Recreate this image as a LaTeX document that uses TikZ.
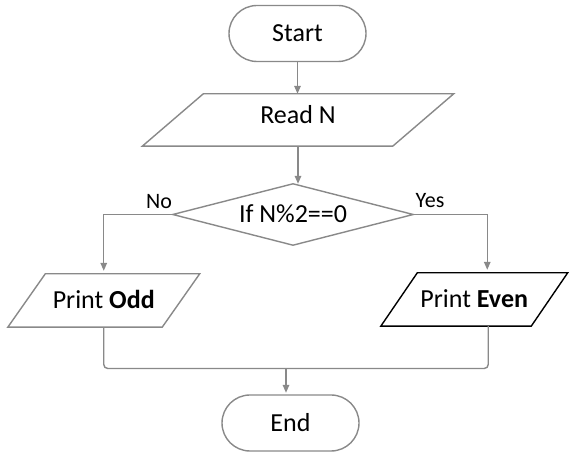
\documentclass[tikz,border=0pt]{standalone}
\usepackage{fontspec}
\setmainfont{Carlito}
\usetikzlibrary{arrows.meta,calc}

\definecolor{linegray}{RGB}{137,137,137}

\tikzset{
  x=1pt, y=1pt,
  flow/.style={draw=linegray, line width=1.4pt},
  arrowline/.style={flow, -{Triangle[length=8pt,width=6.5pt]}},
  txt/.style={font=\fontsize{26}{31}\selectfont, inner sep=0pt,
              text height=16.5pt, text depth=0pt},
  lbl/.style={font=\fontsize{22}{26}\selectfont, inner sep=0pt},
  terminal/.style={txt, draw=linegray, line width=1.4pt, rounded corners=28pt,
                   minimum width=137pt, minimum height=56pt},
  % invisible box that carries the text; its outline is drawn separately
  bodybox/.style={txt, draw=none}
}

% parallelogram outline around a named box; #3 = horizontal slant
\newcommand{\drawslanted}[3][linegray]{%
  \draw[draw=#1, line width=1.4pt, line join=miter]
    ([xshift=#3/2]#2.north west) -- ([xshift=#3/2]#2.north east)
    -- ([xshift=-#3/2]#2.south east) -- ([xshift=-#3/2]#2.south west) -- cycle;}

\begin{document}
\begin{tikzpicture}
  \fill[white] (0,0) rectangle (570,452);
  \useasboundingbox (0,0) rectangle (570,452);

  % nodes
  \node[terminal] (start) at (297.5,418.5) {Start};
  \node[bodybox, minimum width=250pt, minimum height=52pt, text depth=10pt]
       (read) at (298,332) {Read N};
  \node[bodybox, minimum width=240pt, minimum height=61pt]
       (dec) at (293,237.5) {If N\%2==0};
  \node[bodybox, minimum width=154pt, minimum height=53pt]
       (odd) at (103.75,151.5) {Print \textbf{Odd}};
  \node[bodybox, minimum width=150pt, minimum height=53pt]
       (even) at (474.25,152.5) {Print \textbf{Even}};
  \node[terminal] (end) at (290.5,29) {End};

  % outlines of the input/output and decision shapes
  \drawslanted{read}{61pt}
  \drawslanted{odd}{37.5pt}
  \drawslanted[black]{even}{36.5pt}
  \draw[flow, line join=miter] (dec.north) -- (dec.east) -- (dec.south)
        -- (dec.west) -- cycle;

  % branch labels
  \node[lbl] (no) at (159,250) {No};
  \node[lbl] (yes) at (430,251) {Yes};

  % connectors
  \draw[arrowline] (start.south) -- (start.south |- read.north);
  \draw[arrowline] (read.south) -- (read.south |- dec.north);
  \draw[arrowline, shorten >=3pt] (dec.west) -| (odd.north);
  \draw[arrowline, shorten >=3pt] (dec.east) -| ([xshift=13pt]even.north);

  \coordinate (join) at (286,83.5);
  \draw[flow, rounded corners=4pt] (odd.south) |- (join)
        -| ([xshift=14pt]even.south);
  \draw[arrowline, shorten >=1.5pt] (join) -- (join |- end.north);
\end{tikzpicture}
\end{document}
